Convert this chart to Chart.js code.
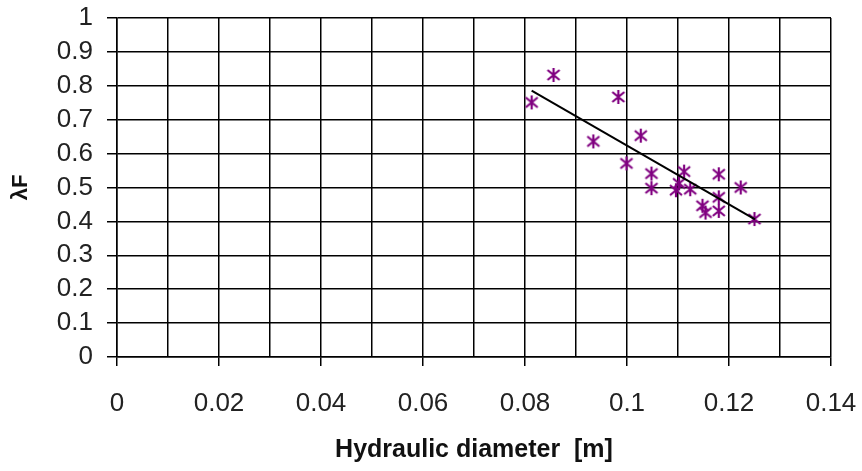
<!DOCTYPE html>
<html>
<head>
<meta charset="utf-8">
<script src="https://cdn.jsdelivr.net/npm/chart.js@4/dist/chart.umd.min.js"></script>
<style>
  html, body { margin: 0; padding: 0; background: #fff; }
  #wrap { width: 862px; height: 471px; }
</style>
</head>
<body>
<div id="wrap"><canvas id="grafico" width="862" height="471"></canvas></div>
<script>
// diametro hidraulico [m] e lambda F medidos
const diametros = [0.0856, 0.0813, 0.0983, 0.0934, 0.1027, 0.0999, 0.1048, 0.1048, 0.1112, 0.1102,
                   0.1096, 0.1124, 0.1180, 0.1180, 0.1180, 0.1148, 0.1154, 0.1223, 0.1250];
const lambdas = [0.832, 0.751, 0.767, 0.636, 0.653, 0.571, 0.541, 0.498, 0.547, 0.512,
                 0.492, 0.495, 0.539, 0.471, 0.431, 0.446, 0.426, 0.500, 0.407];

// linha de tendencia (extremos)
const tendenciaX = [0.0813, 0.1251];
const tendenciaY = [0.786, 0.406];

const fonte = "'Liberation Sans', Arial, sans-serif";

// marcador asterisco estilo Excel
function criarAsterisco(cor) {
    const c = document.createElement('canvas');
    c.width = 16;
    c.height = 16;
    const g = c.getContext('2d');
    g.strokeStyle = cor;
    g.lineWidth = 2.2;
    g.beginPath();
    g.moveTo(2, 3); g.lineTo(14, 13);
    g.moveTo(14, 3); g.lineTo(2, 13);
    g.moveTo(8, 1); g.lineTo(8, 15);
    g.stroke();
    return c;
}

const pontos = diametros.map((d, i) => ({ x: d, y: lambdas[i] }));
const tendencia = tendenciaX.map((d, i) => ({ x: d, y: tendenciaY[i] }));

const ctx = document.getElementById('grafico').getContext('2d');
new Chart(ctx, {
    type: 'scatter',
    data: {
        datasets: [
            {
                label: 'Tendência',
                type: 'line',
                data: tendencia,
                borderColor: '#000000',
                borderWidth: 2,
                pointRadius: 0,
                fill: false
            },
            {
                label: 'λF',
                data: pontos,
                pointStyle: criarAsterisco('#800080'),
                pointRadius: 8
            }
        ]
    },
    options: {
        responsive: false,
        animation: false,
        layout: { padding: { top: 18, right: 31, left: 0, bottom: 0 } },
        plugins: {
            legend: { display: false },
            tooltip: { enabled: false }
        },
        scales: {
            x: {
                type: 'linear',
                min: 0,
                max: 0.14,
                afterFit: scale => {
                    scale.height = 114;
                    scale.paddingLeft = 0;
                    scale.paddingRight = 0;
                },
                ticks: {
                    stepSize: 0.01,
                    color: '#222222',
                    font: { family: fonte, size: 26 },
                    padding: 22,
                    maxRotation: 0,
                    autoSkip: false,
                    callback: (value, index) => index % 2 === 0 ? String(Number(value.toFixed(2))) : ''
                },
                grid: {
                    color: '#000000',
                    lineWidth: 1.5,
                    tickLength: 9,
                    tickColor: c => c.index % 2 === 0 ? '#000000' : 'rgba(0,0,0,0)'
                },
                border: { color: '#000000', width: 1.5 },
                title: {
                    display: true,
                    text: 'Hydraulic diameter  [m]',
                    color: '#111111',
                    font: { family: fonte, size: 25, weight: 'bold' },
                    padding: { top: 0, bottom: 6 }
                }
            },
            y: {
                min: 0,
                max: 1,
                afterFit: scale => {
                    scale.width = 117;
                    scale.paddingTop = 0;
                    scale.paddingBottom = 0;
                },
                ticks: {
                    stepSize: 0.1,
                    autoSkip: false,
                    color: '#222222',
                    font: { family: fonte, size: 26 },
                    padding: 14,
                    callback: value => String(Number(value.toFixed(1)))
                },
                grid: {
                    color: '#000000',
                    lineWidth: 1.5,
                    tickLength: 10
                },
                border: { color: '#000000', width: 1.5 },
                title: {
                    display: true,
                    text: 'λF',
                    color: '#111111',
                    font: { family: fonte, size: 22, weight: 'bold' },
                    padding: { top: 8, bottom: 0 }
                }
            }
        }
    }
});
</script>
</body>
</html>
